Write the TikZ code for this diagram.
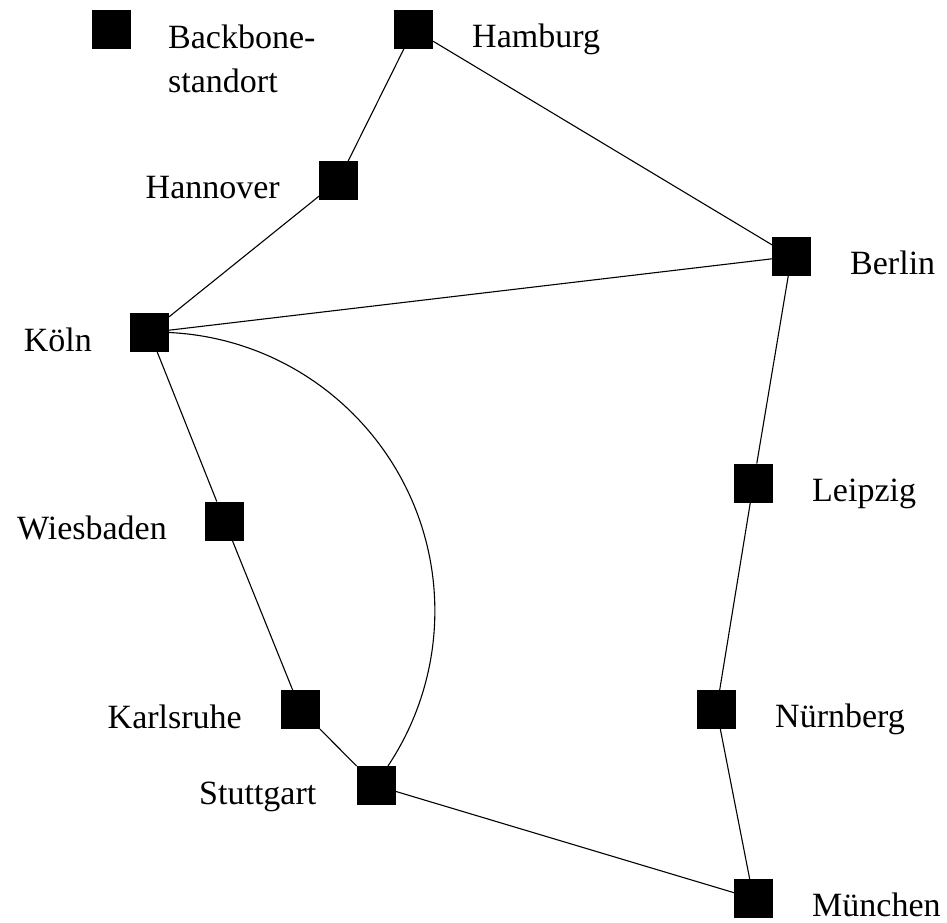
\documentclass[tikz,border=0pt]{standalone}
\usepackage{fontspec}
\setmainfont{Liberation Serif}
\begin{document}
\begin{tikzpicture}[x=1pt,y=-1pt,
  site/.style={fill=black, minimum size=39pt, inner sep=0pt, outer sep=0pt},
  link/.style={line width=1.1pt},
  lbl/.style={inner sep=0pt, font=\fontsize{34}{44}\selectfont},
  lblr/.style={lbl, anchor=base west},
  lbll/.style={lbl, anchor=base east}]
\useasboundingbox (0,0) rectangle (947,922);

% backbone sites
\node[site] (legend)    at (111.5,29.5) {};
\node[site] (hamburg)   at (413.5,29.5) {};
\node[site] (hannover)  at (338.5,180.5) {};
\node[site] (berlin)    at (791.5,256.5) {};
\node[site] (koeln)     at (149.5,332.5) {};
\node[site] (leipzig)   at (753.5,483) {};
\node[site] (wiesbaden) at (224.5,521) {};
\node[site] (karlsruhe) at (300.5,709.5) {};
\node[site] (nuernberg) at (716.5,709.5) {};
\node[site] (stuttgart) at (376,785.5) {};
\node[site] (muenchen)  at (753.5,898.5) {};

% labels (the two-line legend text is anchored at its last baseline)
\node[lbl, anchor=base west, align=left] (legend-l) at ([xshift=37pt,yshift=-43pt]legend.south east) {Backbone-\\standort};
\node[lblr] (hamburg-l)   at ([xshift=39pt,yshift=1.5pt]hamburg.south east) {Hamburg};
\node[lbll] (hannover-l)  at ([xshift=-39pt,yshift=1.5pt]hannover.south west) {Hannover};
\node[lblr] (berlin-l)    at ([xshift=39pt,yshift=1.5pt]berlin.south east) {Berlin};
\node[lbll] (koeln-l)     at ([xshift=-38pt,yshift=0.5pt]koeln.south west) {Köln};
\node[lblr] (leipzig-l)   at ([xshift=39pt,yshift=1.5pt]leipzig.south east) {Leipzig};
\node[lbll] (wiesbaden-l) at ([xshift=-38pt,yshift=1pt]wiesbaden.south west) {Wiesbaden};
\node[lbll] (karlsruhe-l) at ([xshift=-39pt,yshift=1pt]karlsruhe.south west) {Karlsruhe};
\node[lblr] (nuernberg-l) at ([xshift=39pt,yshift=1.5pt]nuernberg.south east) {Nürnberg};
\node[lbll] (stuttgart-l) at ([xshift=-40pt,yshift=0.5pt]stuttgart.south west) {Stuttgart};
\node[lblr] (muenchen-l)  at ([xshift=39pt,yshift=2pt]muenchen.south east) {München};

% links
\draw[link] (hamburg) -- (hannover);
\draw[link] (hamburg) -- (berlin);
\draw[link] (hannover) -- (koeln);
\draw[link] (koeln) -- (berlin);
\draw[link] (koeln) -- (wiesbaden);
\draw[link] (wiesbaden) -- (karlsruhe);
\draw[link] (karlsruhe) -- (stuttgart);
\draw[link] (stuttgart) -- (muenchen);
\draw[link] (berlin) -- (leipzig);
\draw[link] (leipzig) -- (nuernberg);
\draw[link] (nuernberg) -- (muenchen);
\draw[link] (koeln.east) arc[start angle=87.3, end angle=-33.7, radius=279pt];
\end{tikzpicture}
\end{document}
